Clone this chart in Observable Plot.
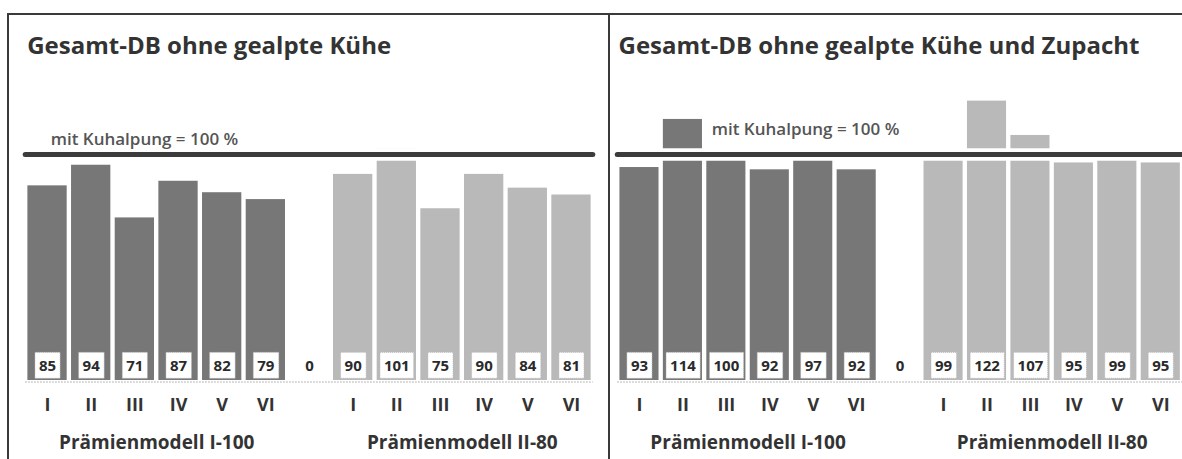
<!DOCTYPE html>
<html>
<head>
<meta charset="utf-8">
<script src="https://cdn.jsdelivr.net/npm/d3@7"></script>
<script src="https://cdn.jsdelivr.net/npm/@observablehq/plot@0.6"></script>
<style>
  html, body { margin: 0; padding: 0; background: #fff; }
  #page { position: relative; width: 1182px; height: 459px; overflow: hidden; background: #fff; font-family: "Open Sans", sans-serif; }
  .panel { position: absolute; top: 0; }
  .hline { position: absolute; background: #3a3a3a; }
</style>
</head>
<body>
<div id="page">
  <div class="hline" style="left:7px; top:13px; width:1175px; height:2px;"></div>
  <div class="hline" style="left:7px; top:13px; width:2px; height:446px;"></div>
  <div class="hline" style="left:608px; top:13px; width:2px; height:446px;"></div>
</div>
<script>
// ---- data ----
const panelTitles = ["Gesamt-DB ohne gealpte Kühe", "Gesamt-DB ohne gealpte Kühe und Zupacht"];
const groupNames = ["Prämienmodell I-100", "Prämienmodell II-80"];
const variants = ["I", "II", "III", "IV", "V", "VI"];
const separatorLabel = "0";
const separatorValue = 0;
const referenceValue = 100;
const referenceLabel = "mit Kuhalpung = 100 %";
// Gesamt-DB ohne gealpte Kühe
const leftModelI = [85, 94, 71, 87, 82, 79];
const leftModelII = [90, 101, 75, 90, 84, 81];
// Gesamt-DB ohne gealpte Kühe und Zupacht
const rightModelI = [93, 114, 100, 92, 97, 92];
const rightModelII = [99, 122, 107, 95, 99, 95];

// ---- build rows ----
function buildRows(modelI, modelII) {
  const rows = [];
  variants.forEach((v, i) => rows.push({key: "A-" + v, variant: v, group: 0, value: modelI[i]}));
  rows.push({key: "gap", variant: "", group: -1, value: separatorValue});
  variants.forEach((v, i) => rows.push({key: "B-" + v, variant: v, group: 1, value: modelII[i]}));
  return rows;
}

const colors = {0: "#777777", 1: "#b9b9b9", "-1": "#ffffff"};
const VALUE_FILL = "#2a2a2b";

const panels = [
  {title: panelTitles[0], rows: buildRows(leftModelI, leftModelII), left: 0, width: 605, ml: 25.2, mr: 12.2, refDx: 25, refDy: -7, titleDx: 1.5},
  {title: panelTitles[1], rows: buildRows(rightModelI, rightModelII), left: 611, width: 571, ml: 6.25, mr: 0, refDx: 94, refDy: -17, titleDx: 0.75}
];

const H = 459, MB = 79, MT = 82.3;
const page = document.getElementById("page");
const charts = [];

panels.forEach(p => {
  const step = (p.width - p.ml - p.mr) / 13;
  const groupLabels = [
    {key: "A-III", text: groupNames[0]},
    {key: "B-III", text: groupNames[1]}
  ];
  const chart = Plot.plot({
    width: p.width,
    height: H,
    marginLeft: p.ml,
    marginRight: p.mr,
    marginTop: MT,
    marginBottom: MB,
    style: {fontFamily: "'Open Sans', sans-serif", background: "transparent", overflow: "visible"},
    x: {domain: p.rows.map(d => d.key), paddingInner: 0.1, paddingOuter: 0.05, round: false, axis: null},
    y: {domain: [0, 130], axis: null},
    marks: [
      Plot.barY(p.rows, {x: "key", y: "value", fill: d => colors[d.group]}),
      Plot.ruleY([0], {stroke: "#a0a0a0", strokeDasharray: "1.5 1.5", dy: 1.5}),
      Plot.ruleY([referenceValue], {stroke: "white", strokeWidth: 12.5, dy: 3}),
      Plot.ruleY([referenceValue], {stroke: "#3c3c3c", strokeWidth: 5, strokeLinecap: "round", dy: 3}),
      Plot.text([referenceValue], {y: d => d, text: () => referenceLabel, frameAnchor: "left", textAnchor: "start", lineAnchor: "bottom", dx: p.refDx, dy: p.refDy, fontSize: 17, fontWeight: 600, fill: "#555"}),
      Plot.text(p.rows.filter(d => d.group >= 0), {x: "key", text: d => String(d.value), frameAnchor: "bottom", lineAnchor: "middle", dy: -14, fontSize: 15, fontWeight: 700, fill: VALUE_FILL}),
      Plot.text(p.rows.filter(d => d.group < 0), {x: "key", text: () => separatorLabel, frameAnchor: "bottom", lineAnchor: "middle", dy: -14, fontSize: 15, fontWeight: 700, fill: "#2a2a2a"}),
      Plot.text(p.rows.filter(d => d.group >= 0), {x: "key", text: "variant", frameAnchor: "bottom", lineAnchor: "middle", dy: 25, fontSize: 18, fontWeight: 700, fill: "#333"}),
      Plot.text(groupLabels, {x: "key", text: "text", frameAnchor: "bottom", lineAnchor: "bottom", dx: step / 2, dy: 68, fontSize: 19, fontWeight: 700, fill: "#333"}),
      Plot.text([p.title], {frameAnchor: "top-left", textAnchor: "start", lineAnchor: "bottom", dx: p.titleDx, dy: 53 - MT, fontSize: 24, fontWeight: 700, fill: "#333"})
    ]
  });
  const holder = document.createElement("div");
  holder.className = "panel";
  holder.style.left = p.left + "px";
  holder.style.width = p.width + "px";
  holder.appendChild(chart);
  page.insertBefore(holder, page.firstChild);
  charts.push(chart);
});

// white boxes behind value labels
function addBoxes() {
  charts.forEach(chart => {
    chart.querySelectorAll("rect.valuebox").forEach(r => r.remove());
    chart.querySelectorAll("g").forEach(g => {
      if (g.getAttribute("fill") !== VALUE_FILL) return;
      g.querySelectorAll("text").forEach(t => {
        const b = t.getBBox();
        const r = document.createElementNS("http://www.w3.org/2000/svg", "rect");
        const w = b.width + 8, h = 26;
        r.setAttribute("class", "valuebox");
        r.setAttribute("x", b.x + b.width / 2 - w / 2);
        r.setAttribute("y", b.y + b.height / 2 - h / 2);
        r.setAttribute("width", w);
        r.setAttribute("height", h);
        r.setAttribute("fill", "white");
        r.setAttribute("stroke", "#b0b0b0");
        r.setAttribute("stroke-width", "0.8");
        r.setAttribute("stroke-dasharray", "1 1");
        const tr = t.getAttribute("transform");
        if (tr) r.setAttribute("transform", tr);
        t.parentNode.insertBefore(r, t);
      });
    });
  });
}
addBoxes();
if (document.fonts && document.fonts.ready) document.fonts.ready.then(addBoxes);
</script>
</body>
</html>
